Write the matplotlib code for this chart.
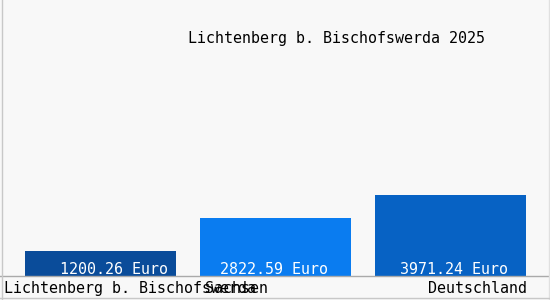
import matplotlib
matplotlib.use("Agg")
import matplotlib.pyplot as plt
from matplotlib.patches import Rectangle
from matplotlib.lines import Line2D

title = "Lichtenberg b. Bischofswerda 2025"
categories = ["Lichtenberg b. Bischofswerda", "Sachsen", "Deutschland"]
values = [1200.26, 2822.59, 3971.24]
value_labels = ["1200.26 Euro", "2822.59 Euro", "3971.24 Euro"]
colors = ["#0a4c9a", "#0a7cf0", "#0762c4"]

W, H = 550, 300
dpi = 100
fig = plt.figure(figsize=(W / dpi, H / dpi), dpi=dpi, facecolor="#f8f8f8")
font = "DejaVu Sans Mono"
fs = 10.8

base_px = 276
ax = fig.add_axes([0, (H - base_px) / H, 1, base_px / H])
ax.set_facecolor("#f8f8f8")
for s in ax.spines.values():
    s.set_visible(False)
ax.set_xticks([])
ax.set_yticks([])

x = list(range(len(values)))
width = 151 / 175
ax.bar(x, values, width=width, color=colors, zorder=2)
ax.set_xlim(-100.5 / 175, (550 - 100.5) / 175)
ax.set_ylim(0, base_px / 0.0205)

# value labels inside the bars
offsets = [13, -2, 3]
for xi, v, lab, off in zip(x, values, value_labels, offsets):
    ax.annotate(lab, xy=(xi, 0), xytext=(off * 72 / dpi, 2 * 72 / dpi),
                textcoords="offset points", ha="center", va="baseline",
                color="white", fontsize=fs, family=font, zorder=3)

# separator line
fig.add_artist(Line2D([0, 1], [(H - base_px) / H] * 2, color="#aaaaaa", lw=1))

# category labels
y_lab = (H - 293) / H
fig.text(4 / W, y_lab, categories[0], ha="left", va="baseline", fontsize=fs, family=font, color="black")
ax.annotate(categories[1], xy=(x[1] - width / 2, 0), xytext=(5 * 72 / dpi, 0),
            textcoords="offset points", ha="left", va="baseline",
            xycoords="data", annotation_clip=False, fontsize=fs, family=font, color="black")
fig.text(527 / W, y_lab, categories[2], ha="right", va="baseline", fontsize=fs, family=font, color="black")

# fix annotation y for category 1 to same baseline as others
txt = ax.texts[-1]
txt.xy = (x[1] - width / 2, 0)
txt.set_position((5 * 72 / dpi, -17 * 72 / dpi))

# title
fig.text(337 / W, (H - 43) / H, title, ha="center", va="baseline", fontsize=fs, family=font, color="black")

# border
fig.add_artist(Line2D([1.5 / W, 1.5 / W], [0, 1], color="#c8c8c8", lw=1))
fig.add_artist(Line2D([548.5 / W, 548.5 / W], [0, 1], color="#e0e0e0", lw=1))
fig.add_artist(Line2D([0, 1], [2.5 / H, 2.5 / H], color="#c8c8c8", lw=1))

fig.savefig("out.png", dpi=dpi, facecolor=fig.get_facecolor())
